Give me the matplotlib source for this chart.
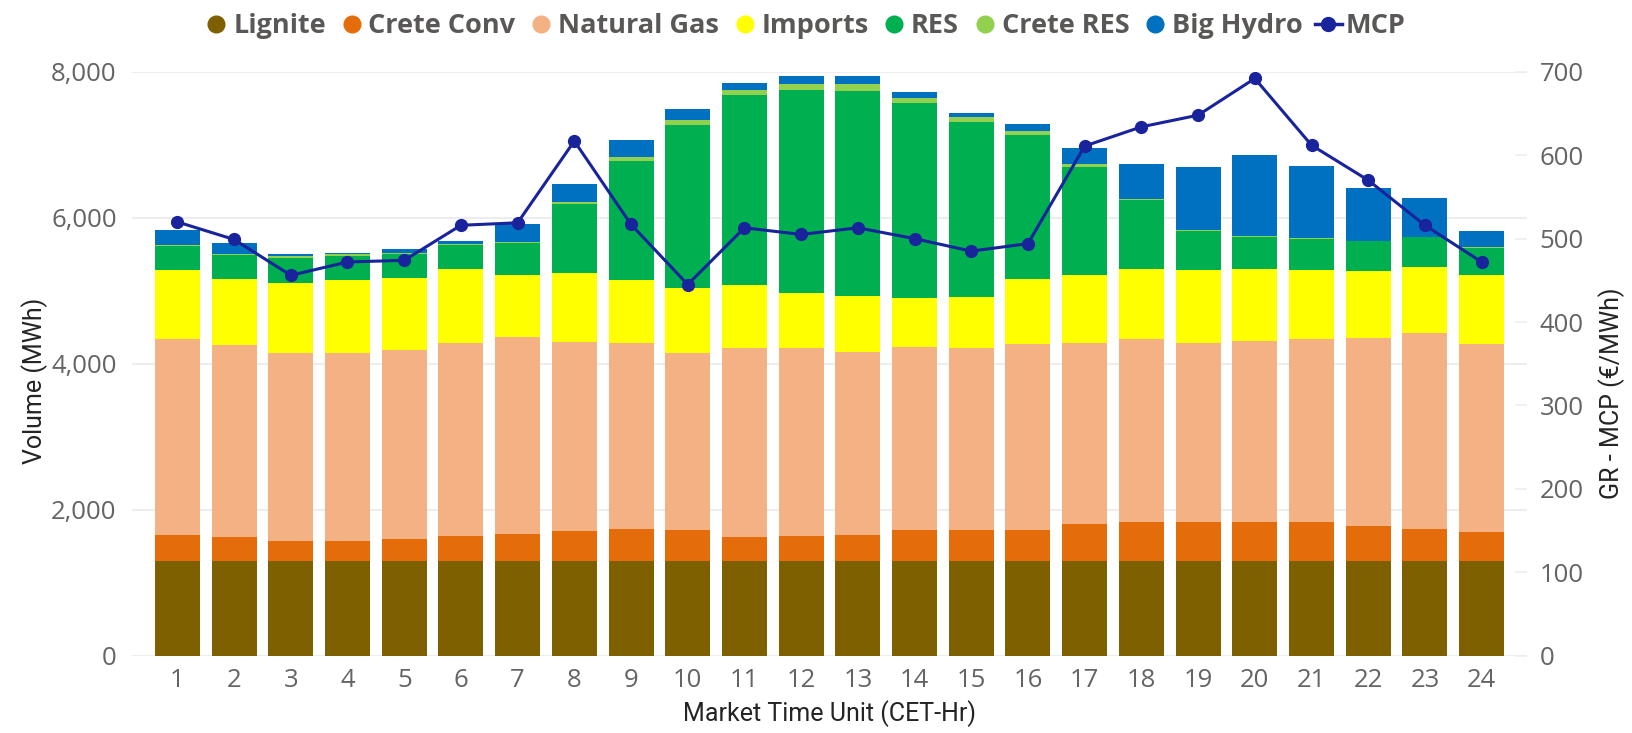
import matplotlib.pyplot as plt
import numpy as np
from matplotlib.lines import Line2D
from matplotlib.ticker import FuncFormatter

# hourly generation mix (MWh) and market clearing price (€/MWh)
hours = list(range(1, 25))
lignite = [1300, 1300, 1300, 1300, 1300, 1300, 1300, 1300, 1300, 1300, 1300, 1300,
           1300, 1300, 1300, 1300, 1300, 1300, 1300, 1300, 1300, 1300, 1300, 1300]
crete_conv = [352, 325, 276, 276, 298, 336, 363, 406, 433, 417, 325, 341,
              357, 417, 417, 422, 504, 531, 531, 531, 531, 476, 433, 390]
natural_gas = [2681, 2627, 2578, 2578, 2594, 2653, 2708, 2589, 2556, 2437, 2589, 2573,
               2502, 2507, 2497, 2546, 2485, 2502, 2458, 2475, 2502, 2573, 2692, 2583]
imports = [948, 904, 953, 991, 980, 1003, 839, 942, 856, 888, 866, 752,
           769, 677, 698, 888, 927, 959, 992, 996, 948, 916, 904, 937]
res = [335, 336, 347, 336, 325, 335, 439, 948, 1636, 2226, 2600, 2784,
       2811, 2665, 2405, 1982, 1484, 953, 541, 434, 433, 411, 401, 380]
crete_res = [17, 16, 27, 16, 27, 16, 21, 32, 54, 71, 76, 76,
             87, 71, 65, 54, 32, 11, 11, 10, 11, 11, 11, 10]
big_hydro = [200, 141, 16, 27, 54, 38, 239, 250, 233, 151, 97, 119,
             119, 92, 60, 93, 228, 487, 856, 1116, 986, 720, 526, 217]
mcp = [520, 499, 456, 472, 474, 516, 519, 617, 517, 445, 513, 505,
       513, 500, 485, 494, 611, 634, 648, 692, 612, 570, 516, 472]

labels = ['Lignite', 'Crete Conv', 'Natural Gas', 'Imports', 'RES', 'Crete RES', 'Big Hydro']
series = [lignite, crete_conv, natural_gas, imports, res, crete_res, big_hydro]
colors = ['#7F6000', '#E46C0A', '#F4B183', '#FFFF00', '#00B050', '#92D050', '#0070C0']
line_color = '#18239C'

tick_color = '#666462'
title_color = '#252423'
plt.rcParams['font.family'] = ['Open Sans', 'DejaVu Sans']

fig = plt.figure(figsize=(16.32, 7.33), dpi=100)
ax = fig.add_axes([132 / 1632, 1 - 655.7 / 733, 1395 / 1632, 583.9 / 733])

x = np.arange(len(hours))
bottom = np.zeros(len(hours))
for vals, col in zip(series, colors):
    ax.bar(x, vals, width=0.794, bottom=bottom, color=col, zorder=2)
    bottom += np.array(vals)

ax.set_xlim(-0.8, 23.8)
ax.set_ylim(0, 8000)
ax.set_yticks(range(0, 8001, 2000))
ax.yaxis.set_major_formatter(FuncFormatter(lambda v, p: f'{int(v):,}'))
ax.set_xticks(x)
ax.set_xticklabels([str(h) for h in hours])
ax.grid(axis='y', color='#EDEDED', linewidth=1.5, zorder=0)
ax.set_axisbelow(True)
for s in ax.spines.values():
    s.set_visible(False)
ax.tick_params(axis='both', length=0, labelsize=18.5, colors=tick_color)
ax.tick_params(axis='y', pad=11)
ax.tick_params(axis='x', pad=9)

ax.set_xlabel('Market Time Unit (CET-Hr)', fontsize=18, color=title_color,
              family=['Roboto', 'DejaVu Sans'], labelpad=5)
ax.set_ylabel('Volume (MWh)', fontsize=18, color=title_color,
              family=['Roboto', 'DejaVu Sans'])
ax.yaxis.set_label_coords(-0.06, 0.47)

# price on the secondary axis
ax2 = ax.twinx()
ax2.plot(x, mcp, color=line_color, linewidth=2.2, marker='o', markersize=8.5, zorder=5)
ax2.set_ylim(0, 700)
ax2.set_yticks(range(0, 701, 100))
for s in ax2.spines.values():
    s.set_visible(False)
ax2.tick_params(axis='y', length=9, width=1.2, color='#EDEDED', labelsize=18.5,
                labelcolor=tick_color, pad=9, direction='in')
ax2.set_ylabel('GR - MCP (€/MWh)', fontsize=18, color=title_color,
               family=['Roboto', 'DejaVu Sans'])
ax2.yaxis.set_label_coords(1.051, 0.45)

handles = [Line2D([], [], linestyle='none', marker='o', markersize=12,
                  markerfacecolor=c, markeredgecolor=c) for c in colors]
handles.append(Line2D([], [], color=line_color, linewidth=2.5, marker='o', markersize=10))
fig.legend(handles, labels + ['MCP'], loc='center', bbox_to_anchor=(804 / 1632, 1 - 26 / 733),
           ncol=8, frameon=False, handlelength=1.0, handletextpad=0.12, columnspacing=0.45,
           prop={'size': 19.5, 'weight': 'bold'}, labelcolor='#5A5856')

fig.savefig('out.png', dpi=100)
